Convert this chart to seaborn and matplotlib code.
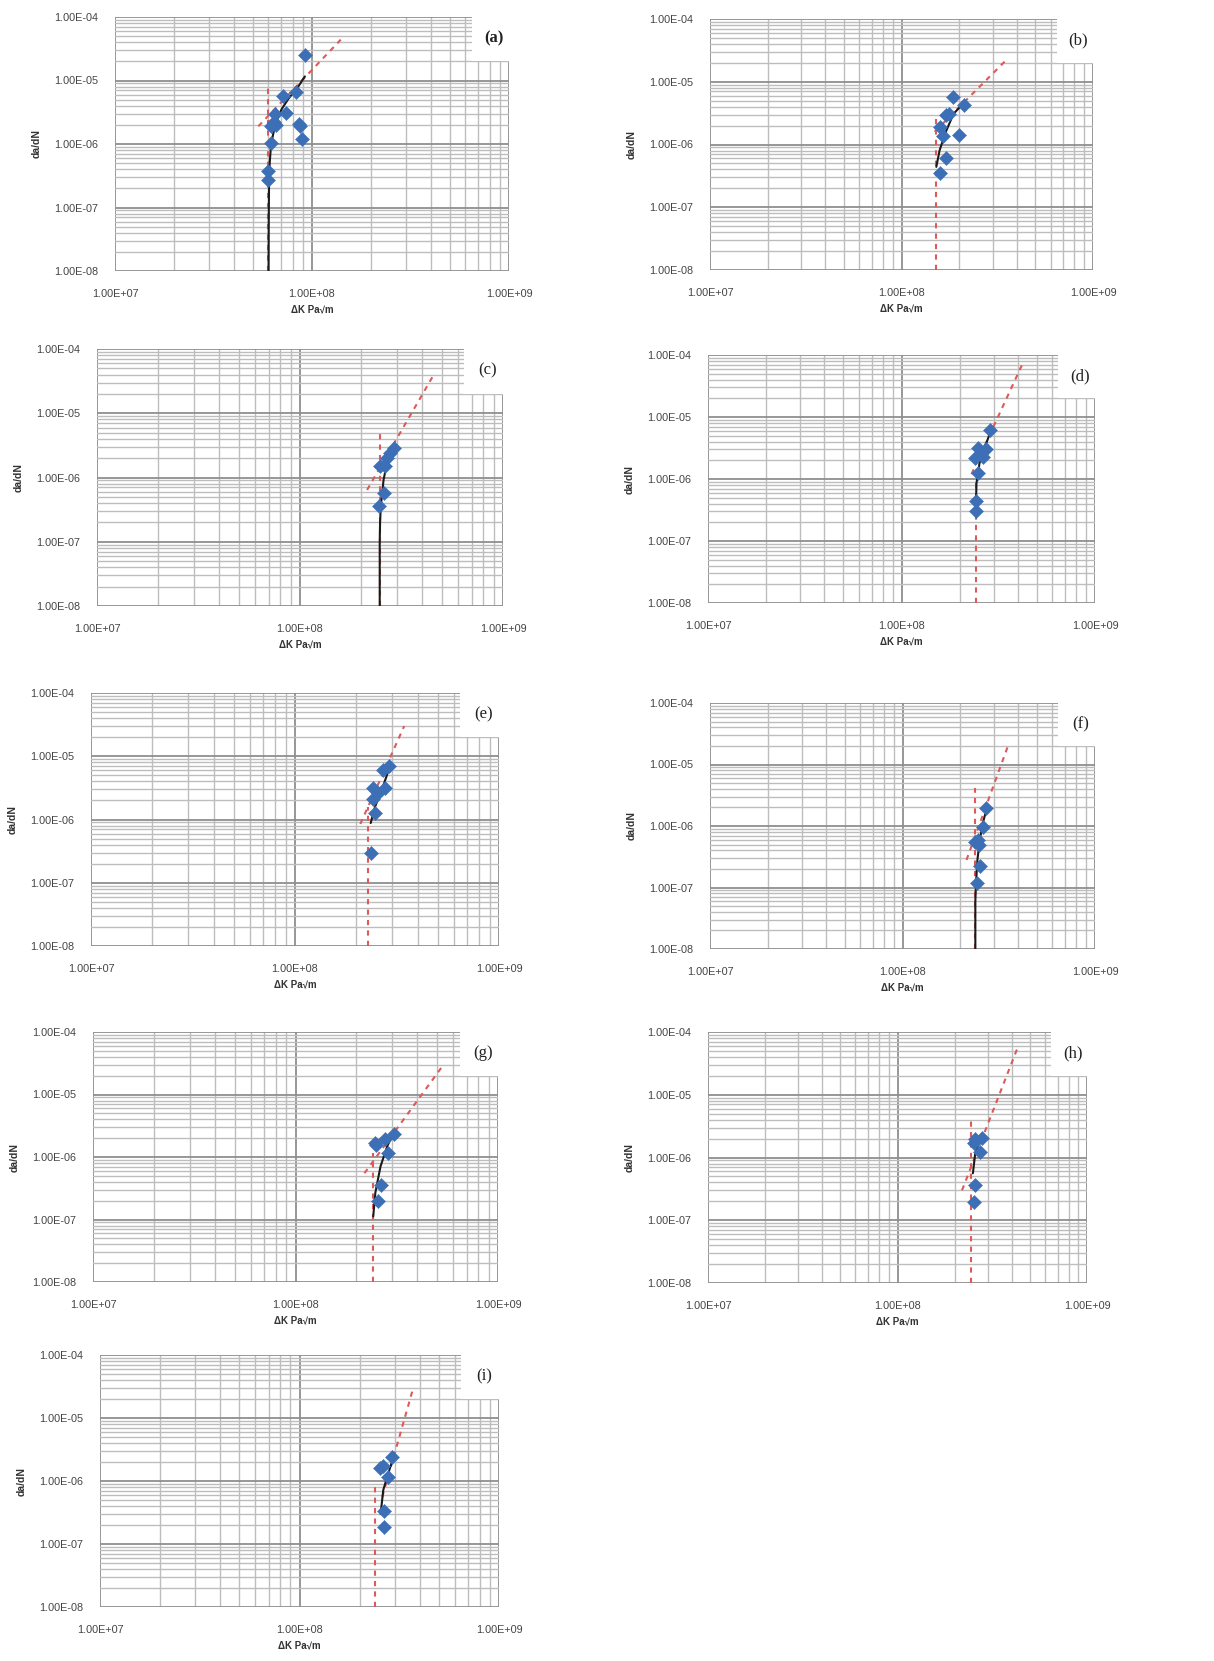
import numpy as np
import pandas as pd
import matplotlib
matplotlib.use("Agg")
import matplotlib.pyplot as plt
import seaborn as sns
from matplotlib.ticker import LogLocator, FuncFormatter, NullFormatter
from matplotlib.patches import Rectangle

sns.set_theme(style="white")
plt.rcParams['font.family'] = ['Liberation Sans', 'DejaVu Sans']

# ---------------- data ----------------
labels = ["(a)", "(b)", "(c)", "(d)", "(e)", "(f)", "(g)", "(h)", "(i)"]

# measured points: delta K (Pa*sqrt(m)) and da/dN
a_dk = [9.2e7, 8.3e7, 7.1e7, 7.4e7, 6.5e7, 6.4e7, 6.2e7, 6.6e7, 8.6e7, 8.7e7, 8.9e7, 6.2e7, 6.0e7, 6.0e7]
a_da = [2.5e-5, 6.5e-6, 5.6e-6, 3.05e-6, 3.0e-6, 2.25e-6, 1.9e-6, 2.0e-6, 2.07e-6, 1.9e-6, 1.2e-6, 1.05e-6, 3.8e-7, 2.7e-7]
b_dk = [1.85e8, 2.13e8, 1.76e8, 1.71e8, 1.59e8, 1.64e8, 2.0e8, 1.70e8, 1.59e8]
b_da = [5.8e-6, 4.2e-6, 3.1e-6, 2.9e-6, 1.9e-6, 1.36e-6, 1.4e-6, 6.0e-7, 3.5e-7]
c_dk = [2.89e8, 2.79e8, 2.68e8, 2.49e8, 2.63e8, 2.58e8, 2.44e8]
c_da = [2.86e-6, 2.4e-6, 2.0e-6, 1.52e-6, 1.52e-6, 5.7e-7, 3.6e-7]
d_dk = [2.86e8, 2.49e8, 2.73e8, 2.39e8, 2.64e8, 2.49e8, 2.42e8, 2.42e8]
d_da = [6.2e-6, 3.2e-6, 3.1e-6, 2.15e-6, 2.3e-6, 1.23e-6, 4.5e-7, 3.0e-7]
e_dk = [2.7e8, 2.9e8, 2.42e8, 2.75e8, 2.56e8, 2.4e8, 2.47e8, 2.37e8]
e_da = [6.1e-6, 6.9e-6, 3.1e-6, 3.1e-6, 2.6e-6, 2.1e-6, 1.26e-6, 3.0e-7]
f_dk = [2.73e8, 2.62e8, 2.47e8, 2.5e8, 2.39e8, 2.52e8, 2.45e8]
f_da = [1.93e-6, 9.8e-7, 5.9e-7, 5.0e-7, 5.4e-7, 2.2e-7, 1.17e-7]
g_dk = [2.48e8, 2.5e8, 2.78e8, 3.08e8, 2.86e8, 2.63e8, 2.55e8]
g_da = [1.67e-6, 1.55e-6, 1.94e-6, 2.36e-6, 1.16e-6, 3.5e-7, 1.95e-7]
h_dk = [2.52e8, 2.57e8, 2.79e8, 2.74e8, 2.55e8, 2.54e8]
h_da = [1.68e-6, 1.95e-6, 2.04e-6, 1.24e-6, 3.6e-7, 1.97e-7]
i_dk = [2.52e8, 2.62e8, 2.92e8, 2.78e8, 2.64e8, 2.64e8]
i_da = [1.58e-6, 1.7e-6, 2.42e-6, 1.16e-6, 3.36e-7, 1.87e-7]

# fitted (solid black) curves
a_fit_dk = [6.02e7, 6.03e7, 6.05e7, 6.1e7, 6.2e7, 6.5e7, 7.0e7, 7.6e7, 8.4e7, 9.2e7]
a_fit_da = [1.0e-8, 5.0e-8, 2.0e-7, 5.0e-7, 1.0e-6, 2.0e-6, 3.5e-6, 5.2e-6, 7.5e-6, 1.16e-5]
b_fit_dk = [1.52e8, 1.58e8, 1.69e8, 1.87e8, 2.15e8]
b_fit_da = [4.4e-7, 8.0e-7, 1.5e-6, 3.1e-6, 4.8e-6]
c_fit_dk = [2.47e8, 2.47e8, 2.48e8, 2.5e8, 2.58e8, 2.68e8, 2.95e8]
c_fit_da = [1.0e-8, 1.0e-7, 2.0e-7, 3.5e-7, 9.2e-7, 1.65e-6, 3.05e-6]
d_fit_dk = [2.42e8, 2.44e8, 2.53e8, 2.7e8, 2.86e8]
d_fit_da = [2.8e-7, 8.5e-7, 1.8e-6, 3.3e-6, 5.4e-6]
e_fit_dk = [2.35e8, 2.47e8, 2.66e8, 2.9e8]
e_fit_da = [8.8e-7, 1.6e-6, 2.9e-6, 6.5e-6]
f_fit_dk = [2.39e8, 2.39e8, 2.41e8, 2.45e8, 2.52e8, 2.63e8, 2.76e8]
f_fit_da = [1.0e-8, 6.0e-8, 1.2e-7, 2.8e-7, 6.0e-7, 1.2e-6, 2.1e-6]
g_fit_dk = [2.42e8, 2.48e8, 2.63e8, 2.84e8, 3.03e8]
g_fit_da = [1.12e-7, 2.7e-7, 7.1e-7, 1.5e-6, 2.3e-6]
h_fit_dk = [2.5e8, 2.57e8, 2.77e8]
h_fit_da = [5.6e-7, 1.15e-6, 2.3e-6]
i_fit_dk = [2.55e8, 2.63e8, 2.78e8, 2.92e8]
i_fit_da = [3.0e-7, 7.2e-7, 1.3e-6, 2.1e-6]

# threshold asymptote (vertical red dashed)
a_thr_dk, a_thr_da = [6.0e7, 6.0e7], [1e-8, 8.5e-6]
b_thr_dk, b_thr_da = [1.51e8, 1.51e8], [1e-8, 2.6e-6]
c_thr_dk, c_thr_da = [2.47e8, 2.47e8], [1e-8, 4.9e-6]
d_thr_dk, d_thr_da = [2.42e8, 2.42e8], [1e-8, 1.0e-6]
e_thr_dk, e_thr_da = [2.27e8, 2.27e8], [1e-8, 1.6e-6]
f_thr_dk, f_thr_da = [2.39e8, 2.39e8], [1e-8, 4.1e-6]
g_thr_dk, g_thr_da = [2.42e8, 2.42e8], [1e-8, 1.16e-6]
h_thr_dk, h_thr_da = [2.45e8, 2.45e8], [1e-8, 4.5e-6]
i_thr_dk, i_thr_da = [2.38e8, 2.38e8], [1e-8, 8.6e-7]

# Paris-law line (slanted red dashed)
a_par_dk, a_par_da = [5.34e7, 1.4e8], [1.9e-6, 4.4e-5]
b_par_dk, b_par_da = [1.49e8, 3.55e8], [1.6e-6, 2.27e-5]
c_par_dk, c_par_da = [2.14e8, 4.5e8], [6.4e-7, 3.7e-5]
d_par_dk, d_par_da = [2.3e8, 4.23e8], [1.2e-6, 7.3e-5]
e_par_dk, e_par_da = [2.09e8, 3.43e8], [8.5e-7, 3.0e-5]
f_par_dk, f_par_da = [2.15e8, 3.53e8], [2.8e-7, 2.0e-5]
g_par_dk, g_par_da = [2.19e8, 5.3e8], [5.5e-7, 2.8e-5]
h_par_dk, h_par_da = [2.19e8, 4.27e8], [3.0e-7, 5.3e-5]
i_par_dk, i_par_da = [2.6e8, 3.7e8], [5.6e-7, 2.85e-5]

x_label = "ΔK Pa√m"
y_label = "da/dN"

# ---------------- assemble ----------------
pts = [(a_dk, a_da), (b_dk, b_da), (c_dk, c_da), (d_dk, d_da), (e_dk, e_da),
       (f_dk, f_da), (g_dk, g_da), (h_dk, h_da), (i_dk, i_da)]
fits = [(a_fit_dk, a_fit_da), (b_fit_dk, b_fit_da), (c_fit_dk, c_fit_da), (d_fit_dk, d_fit_da),
        (e_fit_dk, e_fit_da), (f_fit_dk, f_fit_da), (g_fit_dk, g_fit_da), (h_fit_dk, h_fit_da),
        (i_fit_dk, i_fit_da)]
thrs = [(a_thr_dk, a_thr_da), (b_thr_dk, b_thr_da), (c_thr_dk, c_thr_da), (d_thr_dk, d_thr_da),
        (e_thr_dk, e_thr_da), (f_thr_dk, f_thr_da), (g_thr_dk, g_thr_da), (h_thr_dk, h_thr_da),
        (i_thr_dk, i_thr_da)]
pars = [(a_par_dk, a_par_da), (b_par_dk, b_par_da), (c_par_dk, c_par_da), (d_par_dk, d_par_da),
        (e_par_dk, e_par_da), (f_par_dk, f_par_da), (g_par_dk, g_par_da), (h_par_dk, h_par_da),
        (i_par_dk, i_par_da)]

W, H = 1214, 1661
fig = plt.figure(figsize=(W / 100, H / 100), dpi=100)
fig.patch.set_facecolor("white")

# panel rectangles in pixels: left, top, right, bottom
rects_px = [(115, 17, 509, 271), (710, 19, 1093, 270),
            (97, 349, 503, 606), (708, 355, 1095, 603),
            (91, 693, 499, 946), (710, 703, 1095, 949),
            (93, 1032, 498, 1282), (708, 1032, 1087, 1283),
            (100, 1355, 499, 1607)]

blue = "#3c6fb6"
red = "#dc5a5a"
fmt = FuncFormatter(lambda v, p: f"{v:.2E}")

for k in range(9):
    l, t, r, b = rects_px[k]
    ax = fig.add_axes([l / W, 1 - b / H, (r - l) / W, (b - t) / H])
    ax.set_xscale("log")
    ax.set_yscale("log")
    ax.set_xlim(1e7, 1e9)
    ax.set_ylim(1e-8, 1e-4)
    ax.set_axisbelow(True)
    ax.xaxis.set_major_locator(LogLocator(base=10, numticks=10))
    ax.yaxis.set_major_locator(LogLocator(base=10, numticks=10))
    ax.xaxis.set_minor_locator(LogLocator(base=10, subs=np.arange(2, 10), numticks=20))
    ax.yaxis.set_minor_locator(LogLocator(base=10, subs=np.arange(2, 10), numticks=20))
    ax.xaxis.set_major_formatter(fmt)
    ax.yaxis.set_major_formatter(fmt)
    ax.xaxis.set_minor_formatter(NullFormatter())
    ax.yaxis.set_minor_formatter(NullFormatter())
    ax.grid(True, which="major", color="#8f8f8f", linewidth=1.3)
    ax.grid(True, which="minor", color="#bdbdbd", linewidth=1.0)
    for s in ax.spines.values():
        s.set_visible(False)
    ax.tick_params(which="both", length=0)
    ax.tick_params(axis="x", pad=13, labelsize=7.8, labelcolor="#444444")
    ax.tick_params(axis="y", pad=12, labelsize=7.8, labelcolor="#444444")

    # label box hiding the grid at upper right
    ax.add_patch(Rectangle((0.905, 0.825), 0.16, 0.2, transform=ax.transAxes,
                           facecolor="white", edgecolor="none", zorder=1.5, clip_on=False))
    ax.text(0.962, 0.915, labels[k], transform=ax.transAxes, ha="center", va="center",
            fontsize=12, family=["Liberation Serif", "DejaVu Serif"],
            fontweight="bold" if k == 0 else "normal", color="#222222", zorder=5)

    tx, ty = thrs[k]
    sns.lineplot(x=tx, y=ty, ax=ax, color=red, linewidth=1.5, linestyle=(0, (2.5, 2.5)),
                 estimator=None, sort=False, zorder=3)
    px_, py_ = pars[k]
    sns.lineplot(x=px_, y=py_, ax=ax, color=red, linewidth=1.5, linestyle=(0, (2.5, 2.5)),
                 estimator=None, sort=False, zorder=3)
    fx, fy = fits[k]
    sns.lineplot(x=fx, y=fy, ax=ax, color="#1a1a1a", linewidth=1.5,
                 estimator=None, sort=False, zorder=4)
    dx, dy = pts[k]
    df = pd.DataFrame({"dK": dx, "dadN": dy})
    sns.scatterplot(data=df, x="dK", y="dadN", ax=ax, marker="D", s=52, color=blue,
                    edgecolor=blue, linewidth=0.3, zorder=5)

    ax.set_xlim(1e7, 1e9)
    ax.set_ylim(1e-8, 1e-4)
    ax.set_xlabel(x_label, fontsize=7, fontweight="bold", color="#333333", labelpad=4)
    ax.set_ylabel(y_label, fontsize=7.5, fontweight="bold", color="#333333", labelpad=9)

fig.savefig("out.png", dpi=100, facecolor="white")
